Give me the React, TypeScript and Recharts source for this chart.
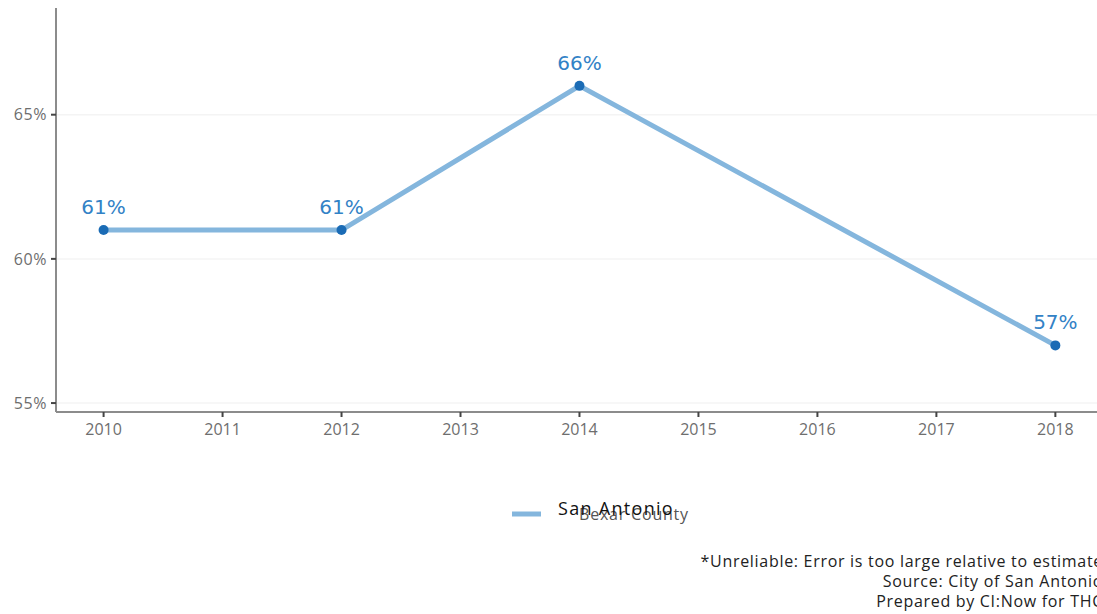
import { LineChart, Line, XAxis, YAxis, CartesianGrid, LabelList } from 'recharts';

const years = [2010, 2012, 2014, 2018];
const sanAntonio = [61, 61, 66, 57];
const yearTicks = [2010, 2011, 2012, 2013, 2014, 2015, 2016, 2017, 2018];
const pctTicks = [55, 60, 65];
const footnotes = [
    '*Unreliable: Error is too large relative to estimate',
    'Source: City of San Antonio',
    'Prepared by CI:Now for THC',
];

const data = years.map((year, i) => ({ year, value: sanAntonio[i] }));

const tickFont = { fill: '#6e6e6e', fontSize: 16, fontFamily: 'Open Sans' };

export default function App() {
    return (
        <div style={{ position: 'fixed', top: 0, left: 0, width: 1097, height: 614, overflow: 'hidden', background: '#fff' }}>
            <LineChart width={1097} height={614} data={data} margin={{ top: 8, right: 0, left: 0, bottom: 172 }}>
                <CartesianGrid vertical={false} horizontalValues={pctTicks} stroke="#f4f4f4" strokeWidth={1.5} />
                <XAxis
                    dataKey="year"
                    type="number"
                    domain={[2009.6, 2018.35]}
                    ticks={yearTicks}
                    allowDataOverflow
                    height={30}
                    tickSize={5}
                    tickMargin={7}
                    axisLine={{ stroke: '#8c8c8c', strokeWidth: 2 }}
                    tickLine={{ stroke: '#444', strokeWidth: 2 }}
                    tick={tickFont}
                />
                <YAxis
                    type="number"
                    domain={[54.69, 68.7]}
                    ticks={pctTicks}
                    allowDataOverflow
                    width={56}
                    tickSize={5}
                    tickMargin={4}
                    tickFormatter={(v) => `${v}%`}
                    axisLine={{ stroke: '#8c8c8c', strokeWidth: 2 }}
                    tickLine={{ stroke: '#444', strokeWidth: 2 }}
                    tick={{ ...tickFont, letterSpacing: 0.6 }}
                />
                <Line
                    dataKey="value"
                    stroke="#84b6dd"
                    strokeWidth={5}
                    dot={{ r: 5, fill: '#1a6bb5', stroke: 'none' }}
                    activeDot={false}
                    connectNulls
                    isAnimationActive={false}
                >
                    <LabelList
                        dataKey="value"
                        position="top"
                        offset={16}
                        formatter={(v) => `${v}%`}
                        style={{ fill: '#3282c6', fontSize: 20, fontFamily: 'DejaVu Sans' }}
                    />
                </Line>
            </LineChart>

            <div style={{ position: 'absolute', left: 512, top: 498, width: 220, height: 36 }}>
                <svg width={30} height={36} style={{ position: 'absolute', left: 0, top: 0 }}>
                    <line x1={0} y1={16} x2={29} y2={16} stroke="#84b6dd" strokeWidth={5} />
                </svg>
                <span style={{ position: 'absolute', left: 67, top: 5, fontFamily: 'Open Sans', fontSize: 16, letterSpacing: 0.8, color: '#555', whiteSpace: 'nowrap' }}>
                    Bexar County
                </span>
                <span style={{ position: 'absolute', left: 46, top: -2, fontFamily: 'Open Sans', fontSize: 18, letterSpacing: 1.3, color: '#111', whiteSpace: 'nowrap' }}>
                    San Antonio
                </span>
            </div>

            <div style={{ position: 'absolute', right: -6, top: 551, textAlign: 'right', fontFamily: 'Open Sans', fontSize: 16, letterSpacing: 0.7, lineHeight: '20px', color: '#222', whiteSpace: 'nowrap' }}>
                {footnotes.map((t) => (
                    <div key={t}>{t}</div>
                ))}
            </div>
        </div>
    );
}
